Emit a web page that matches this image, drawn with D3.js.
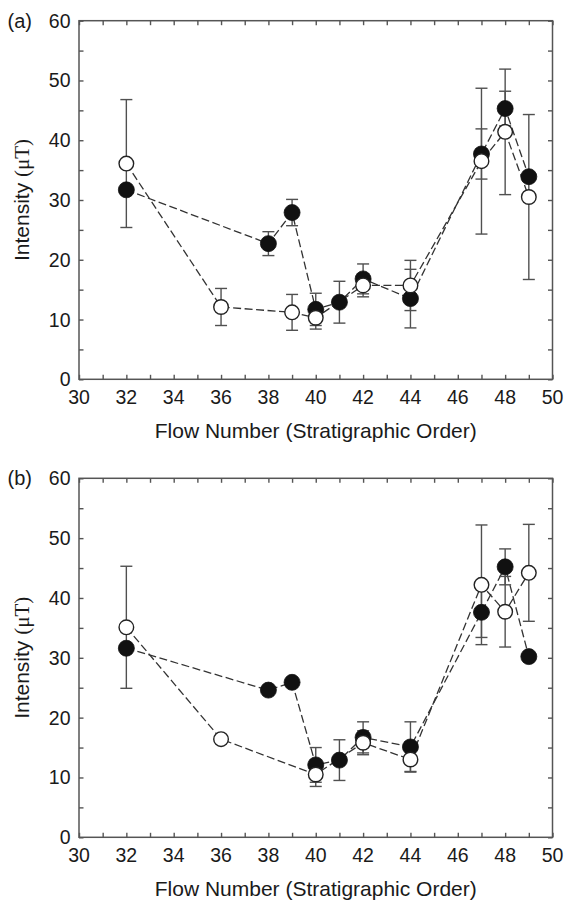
<!DOCTYPE html>
<html>
<head>
<meta charset="utf-8">
<script src="https://cdn.jsdelivr.net/npm/d3@7"></script>
<style>
  html, body { margin: 0; padding: 0; background: #fff; }
  svg { display: block; }
  text { font-family: "Liberation Sans", Arial, Helvetica, sans-serif; fill: #1a1a1a; }
</style>
</head>
<body>
<svg id="chart" width="566" height="902"></svg>
<script>
// Panel (a): palaeointensity per flow, two methods
const flowsAFilled = [32, 38, 39, 40, 41, 42, 44, 47, 48, 49];
const intensityAFilled = [31.7, 22.7, 27.9, 11.7, 12.9, 16.8, 13.5, 37.7, 45.3, 33.9];
const errorAFilled = [0, 2.0, 2.2, 2.7, 3.5, 2.5, 4.9, 4.2, 2.9, 0];
const flowsAOpen = [32, 36, 39, 40, 42, 44, 47, 48, 49];
const intensityAOpen = [36.1, 12.1, 11.2, 10.3, 15.7, 15.7, 36.5, 41.4, 30.5];
const errorAOpen = [10.7, 3.1, 3.0, 1.9, 1.9, 4.2, 12.2, 10.5, 13.8];

// Panel (b)
const flowsBFilled = [32, 38, 39, 40, 41, 42, 44, 47, 48, 49];
const intensityBFilled = [31.6, 24.6, 25.9, 12.1, 12.9, 16.7, 15.1, 37.6, 45.2, 30.2];
const errorBFilled = [0, 0, 0, 2.9, 3.4, 2.6, 4.2, 4.2, 3.0, 0];
const flowsBOpen = [32, 36, 40, 42, 44, 47, 48, 49];
const intensityBOpen = [35.1, 16.4, 10.5, 15.8, 13.0, 42.2, 37.7, 44.2];
const errorBOpen = [10.2, 0, 2.0, 2.0, 2.0, 10.0, 5.9, 8.1];

// Axis ticks
const xTickLabels = [30, 32, 34, 36, 38, 40, 42, 44, 46, 48, 50];
const xMinorTicks = d3.range(30, 51, 1);
const yTickLabels = [0, 10, 20, 30, 40, 50, 60];
const yMinorTicks = d3.range(0, 61, 5);

const panelLabels = ["(a)", "(b)"];
const xTitle = "Flow Number (Stratigraphic Order)";

const svg = d3.select("#chart");
const left = 79, right = 552.5;
const axisColor = "#555";

function zip(xs, ys, es) {
  return xs.map((x, i) => ({ x, y: ys[i], e: es[i] }));
}

function drawPanel(top, bottom, label, filled, open) {
  const g = svg.append("g");
  const x = d3.scaleLinear().domain([30, 50]).range([left, right]);
  const y = d3.scaleLinear().domain([0, 60]).range([bottom, top]);

  // frame
  g.append("rect")
    .attr("x", left).attr("y", top)
    .attr("width", right - left).attr("height", bottom - top)
    .attr("fill", "none").attr("stroke", axisColor).attr("stroke-width", 1.5);

  // inward ticks via d3 axes, domain path removed
  const tickLen = 4.5;
  const axB = g.append("g").attr("transform", `translate(0,${bottom})`)
    .call(d3.axisTop(x).tickValues(xMinorTicks).tickSize(tickLen).tickFormat(""));
  const axT = g.append("g").attr("transform", `translate(0,${top})`)
    .call(d3.axisBottom(x).tickValues(xMinorTicks).tickSize(tickLen).tickFormat(""));
  const axL = g.append("g").attr("transform", `translate(${left},0)`)
    .call(d3.axisRight(y).tickValues(yMinorTicks).tickSize(tickLen).tickFormat(""));
  const axR = g.append("g").attr("transform", `translate(${right},0)`)
    .call(d3.axisLeft(y).tickValues(yMinorTicks).tickSize(tickLen).tickFormat(""));
  [axB, axT, axL, axR].forEach(a => {
    a.select(".domain").remove();
    a.selectAll("line").attr("stroke", axisColor).attr("stroke-width", 1.4);
  });

  // tick labels
  g.selectAll(".xl").data(xTickLabels).enter().append("text")
    .attr("x", d => x(d)).attr("y", bottom + 25)
    .attr("text-anchor", "middle").attr("font-size", 19.5)
    .text(d => d);
  g.selectAll(".yl").data(yTickLabels).enter().append("text")
    .attr("x", left - 8.5).attr("y", d => y(d) + 7)
    .attr("text-anchor", "end").attr("font-size", 19.5)
    .text(d => d);

  // titles
  g.append("text")
    .attr("x", (left + right) / 2).attr("y", bottom + 59)
    .attr("text-anchor", "middle").attr("font-size", 21)
    .text(xTitle);
  const yt = g.append("text")
    .attr("transform", `translate(28.5,${(top + bottom) / 2}) rotate(-90)`)
    .attr("text-anchor", "middle").attr("font-size", 21);
  yt.append("tspan").text("Intensity ");
  yt.append("tspan").attr("font-family", "'Liberation Serif', 'Times New Roman', serif").text("(\u03BCT)");

  g.append("text").attr("x", 7.5).attr("y", top + 7)
    .attr("font-size", 20).text(label);

  // dashed connecting lines
  const line = d3.line().x(d => x(d.x)).y(d => y(d.y));
  [filled, open].forEach(s => {
    g.append("path").datum(s).attr("d", line)
      .attr("fill", "none").attr("stroke", "#333")
      .attr("stroke-width", 1.3).attr("stroke-dasharray", "8,3.5");
  });

  // error bars
  const cap = 6;
  [filled, open].forEach(s => {
    const eb = g.append("g").attr("stroke", "#505050").attr("stroke-width", 1.4);
    s.filter(d => d.e > 0).forEach(d => {
      const cx = x(d.x), y1 = y(d.y + d.e), y0 = y(d.y - d.e);
      eb.append("line").attr("x1", cx).attr("x2", cx).attr("y1", y1).attr("y2", y0);
      eb.append("line").attr("x1", cx - cap).attr("x2", cx + cap).attr("y1", y1).attr("y2", y1);
      eb.append("line").attr("x1", cx - cap).attr("x2", cx + cap).attr("y1", y0).attr("y2", y0);
    });
  });

  // markers
  g.selectAll(".f").data(filled).enter().append("circle")
    .attr("cx", d => x(d.x)).attr("cy", d => y(d.y)).attr("r", 8)
    .attr("fill", "#111").attr("stroke", "#111").attr("stroke-width", 0.8);
  g.selectAll(".o").data(open).enter().append("circle")
    .attr("cx", d => x(d.x)).attr("cy", d => y(d.y)).attr("r", 7.3)
    .attr("fill", "#fff").attr("stroke", "#222").attr("stroke-width", 1.4);
}

drawPanel(20.7, 379.3, panelLabels[0],
  zip(flowsAFilled, intensityAFilled, errorAFilled),
  zip(flowsAOpen, intensityAOpen, errorAOpen));
drawPanel(478.3, 837.3, panelLabels[1],
  zip(flowsBFilled, intensityBFilled, errorBFilled),
  zip(flowsBOpen, intensityBOpen, errorBOpen));
</script>
</body>
</html>
